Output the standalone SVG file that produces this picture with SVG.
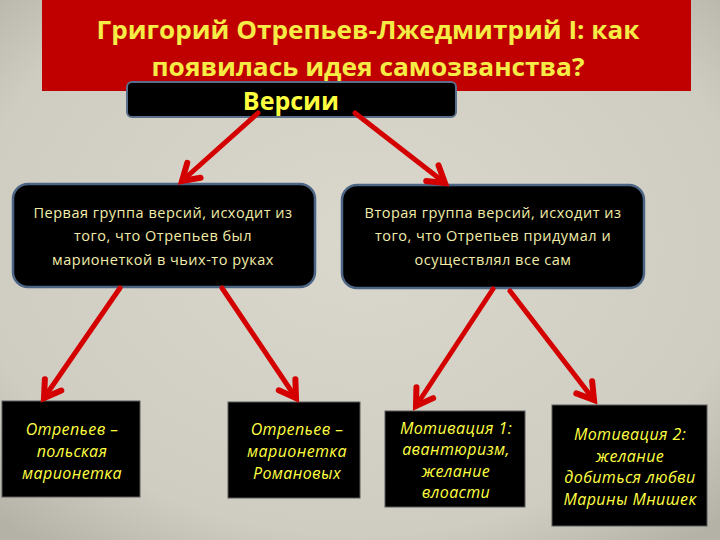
<svg xmlns="http://www.w3.org/2000/svg" width="720" height="540" viewBox="0 0 720 540">
  <defs>
    <radialGradient id="bg" cx="50%" cy="45%" r="72%">
      <stop offset="0" stop-color="#dad7cd"/>
      <stop offset="0.75" stop-color="#cfccc1"/>
      <stop offset="1" stop-color="#b4b1a6"/>
    </radialGradient>
    <marker id="ah" markerUnits="userSpaceOnUse" markerWidth="40" markerHeight="40" viewBox="-20 -20 40 40" refX="0" refY="0" orient="auto">
      <path d="M-16,-10 L0,0 L-16,10" fill="none" stroke="#d40000" stroke-width="6" stroke-linejoin="miter" stroke-linecap="round"/>
    </marker>
    <style>
      .title { font-family: "Open Sans", "Liberation Sans", sans-serif; font-weight: bold; font-size: 25px; fill: #f5ec45; text-anchor: middle; }
      .ver { font-family: "Open Sans", "Liberation Sans", sans-serif; font-weight: bold; font-size: 25px; fill: #ffff40; text-anchor: middle; }
      .rbox { fill: #000; stroke: #4d6585; stroke-width: 2.5; }
      .mid { font-family: "Open Sans", "Liberation Sans", sans-serif; font-size: 14.5px; letter-spacing: 0.5px; fill: #f2eda8; text-anchor: middle; }
      .sbox { fill: #000; stroke: #5a5a5a; stroke-width: 1; }
      .low { font-family: "Open Sans", "Liberation Sans", sans-serif; font-style: italic; font-size: 16px; letter-spacing: 0.4px; fill: #ffff40; text-anchor: middle; }
      .conn line { stroke: #d40000; stroke-width: 5; stroke-linecap: round; marker-end: url(#ah); }
    </style>
  </defs>
  <rect x="0" y="0" width="720" height="540" fill="url(#bg)"/>

  <g id="title">
    <rect x="42" y="0" width="649" height="91" fill="#c00000"/>
    <text class="title" x="368" y="39" textLength="543" lengthAdjust="spacingAndGlyphs">Григорий Отрепьев-Лжедмитрий I: как</text>
    <text class="title" x="368" y="76" textLength="433" lengthAdjust="spacingAndGlyphs">появилась идея самозванства?</text>
  </g>

  <g id="versii">
    <rect x="127" y="82" width="329" height="35" rx="5" fill="#000" stroke="#5a6e8c" stroke-width="2"/>
    <text class="ver" x="291" y="110">Версии</text>
  </g>

  <g id="group1">
    <rect class="rbox" x="13" y="184" width="302" height="103" rx="15"/>
    <text class="mid" x="163" y="218">Первая группа версий, исходит из</text>
    <text class="mid" x="163" y="241">того, что Отрепьев был</text>
    <text class="mid" x="163" y="265">марионеткой в чьих-то руках</text>
  </g>

  <g id="group2">
    <rect class="rbox" x="342" y="185" width="302" height="103" rx="15"/>
    <text class="mid" x="493" y="218">Вторая группа версий, исходит из</text>
    <text class="mid" x="493" y="241">того, что Отрепьев придумал и</text>
    <text class="mid" x="493" y="265">осуществлял все сам</text>
  </g>

  <g id="polish">
    <rect class="sbox" x="2" y="401" width="138" height="96"/>
    <text class="low" x="72" y="435">Отрепьев –</text>
    <text class="low" x="72" y="457">польская</text>
    <text class="low" x="72" y="479">марионетка</text>
  </g>

  <g id="romanov">
    <rect class="sbox" x="228" y="402" width="132" height="96"/>
    <text class="low" x="297" y="435">Отрепьев –</text>
    <text class="low" x="297" y="457">марионетка</text>
    <text class="low" x="297" y="479">Романовых</text>
  </g>

  <g id="motiv1">
    <rect class="sbox" x="385" y="411" width="140" height="96"/>
    <text class="low" x="456" y="434">Мотивация 1:</text>
    <text class="low" x="456" y="455">авантюризм,</text>
    <text class="low" x="456" y="477">желание</text>
    <text class="low" x="456" y="498">влоасти</text>
  </g>

  <g id="motiv2">
    <rect class="sbox" x="552" y="405" width="155" height="121"/>
    <text class="low" x="630" y="440">Мотивация 2:</text>
    <text class="low" x="630" y="462">желание</text>
    <text class="low" x="630" y="483">добиться любви</text>
    <text class="low" x="630" y="505">Марины Мнишек</text>
  </g>

  <g id="connectors" class="conn">
    <line x1="258" y1="113" x2="182" y2="181"/>
    <line x1="355" y1="113" x2="445" y2="183"/>
    <line x1="120" y1="288" x2="44" y2="398"/>
    <line x1="222" y1="288" x2="296" y2="398"/>
    <line x1="493" y1="289" x2="416" y2="406"/>
    <line x1="510" y1="291" x2="594" y2="400"/>
  </g>
</svg>
